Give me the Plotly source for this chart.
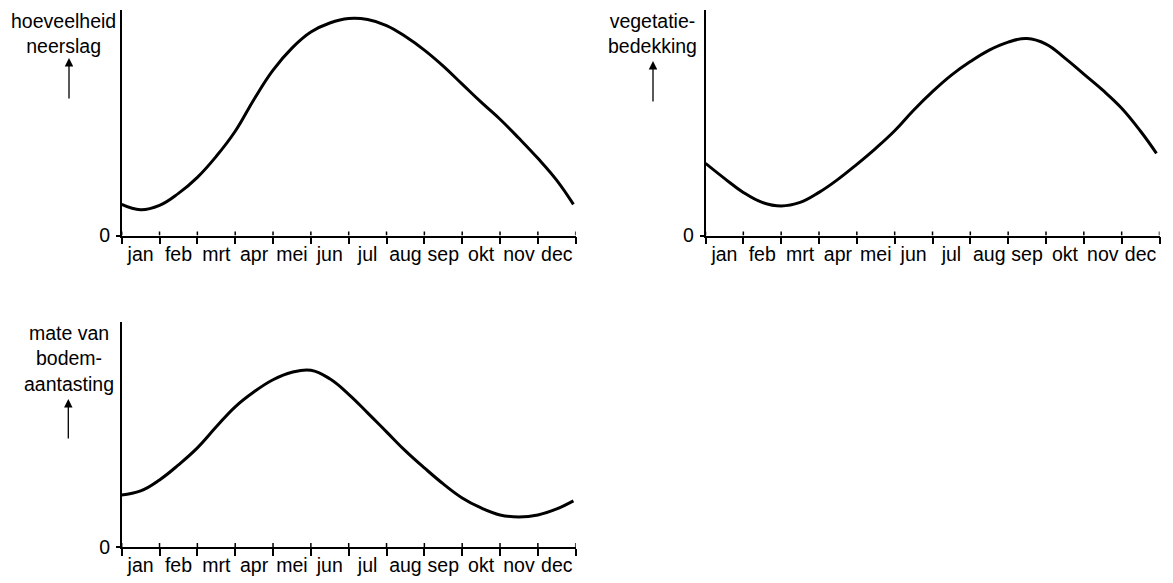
import plotly.graph_objects as go

W, H = 1173, 583
OFFSET = 8  # the page body margin shifts the figure by 8px in the screenshot

months = ["jan", "feb", "mrt", "apr", "mei", "jun", "jul", "aug", "sep", "okt", "nov", "dec"]
tick_positions = list(range(13))
label_positions = [i + 0.5 for i in range(12)]

# x = month position (0 = start of jan, 12 = end of dec); y in arbitrary units (0-225)
x_neerslag = [0, 0.5, 1, 1.5, 2, 2.5, 3, 3.5, 4, 4.5, 5, 5.5, 6, 6.5, 7, 7.5, 8, 8.5, 9, 9.5, 10, 10.5, 11, 11.5, 11.94]
y_neerslag = [31, 25.7, 30, 42, 58, 79, 104, 136, 165, 187, 203, 212, 216.5, 215.5, 209.5, 198.5, 185, 169, 151, 133, 116, 97, 77, 55, 31]

x_vegetatie = [0, 0.5, 1, 1.5, 2, 2.5, 3, 3.5, 4, 4.5, 5, 5.5, 6, 6.5, 7, 7.5, 8, 8.5, 9, 9.5, 10, 10.5, 11, 11.5, 11.92]
y_vegetatie = [72, 57, 43, 33, 29.5, 33, 43, 56, 71, 87, 104.5, 125, 143.5, 160, 173.5, 185, 193, 196.5, 191, 177, 161, 145, 127, 104, 82]

x_bodem = [0, 0.5, 1, 1.5, 2, 2.5, 3, 3.5, 4, 4.5, 5, 5.5, 6, 6.5, 7, 7.5, 8, 8.5, 9, 9.5, 10, 10.5, 11, 11.5, 11.94]
y_bodem = [52, 56, 67, 82, 99, 120, 140, 155, 167, 174.5, 176.5, 168, 152.5, 134, 115, 96, 79, 63, 49, 39, 32, 30, 32, 38, 46]

FONT = "Liberation Sans, Arial, sans-serif"
FS = 19.5

def px_x(p):
    return (p - OFFSET) / W

def px_y(p):
    return 1 - (p - OFFSET) / H

panels = [
    dict(x=x_neerslag, y=y_neerslag, xd=[121.7, 575.7], yd=[10, 235.5],
         label="hoeveelheid<br>neerslag", lx=63.5, ly=8.5, ax_x=69, ax_top=58, ax_bot=100),
    dict(x=x_vegetatie, y=y_vegetatie, xd=[705.5, 1159.5], yd=[10, 235.5],
         label="vegetatie-<br>bedekking", lx=652, ly=8.5, ax_x=653, ax_top=61, ax_bot=103),
    dict(x=x_bodem, y=y_bodem, xd=[121.7, 575.7], yd=[321.7, 547],
         label="mate van<br>bodem-<br>aantasting", lx=69, ly=320, ax_x=68.3, ax_top=399, ax_bot=440),
]

fig = go.Figure()
annotations = []
shapes = []
for i, p in enumerate(panels, start=1):
    xa = "x" if i == 1 else f"x{i}"
    ya = "y" if i == 1 else f"y{i}"
    fig.add_trace(go.Scatter(x=p["x"], y=p["y"], mode="lines",
                             line=dict(color="black", width=3, shape="spline", smoothing=1.2),
                             xaxis=xa, yaxis=ya, showlegend=False, hoverinfo="skip"))
    xkey = "xaxis" if i == 1 else f"xaxis{i}"
    ykey = "yaxis" if i == 1 else f"yaxis{i}"
    fig.layout[xkey] = dict(
        domain=[px_x(p["xd"][0]), px_x(p["xd"][1])], anchor=ya, range=[0, 12], automargin=False,
        showline=True, linecolor="black", linewidth=1.5, showgrid=False, zeroline=False,
        tickmode="array", tickvals=label_positions, ticktext=months, ticks="",
        tickfont=dict(family=FONT, size=FS, color="black"),
        minor=dict(tickmode="array", tickvals=tick_positions, ticks="outside", ticklen=7,
                   tickwidth=1.5, tickcolor="black", showgrid=False),
        fixedrange=True,
    )
    fig.layout[ykey] = dict(
        domain=[px_y(p["yd"][1]), px_y(p["yd"][0])], anchor=xa, range=[0, 225], automargin=False,
        showline=True, linecolor="black", linewidth=1.5, showgrid=False, zeroline=False,
        tickmode="array", tickvals=[0], ticktext=["0"], ticks="outside", ticklen=4, tickwidth=1.5,
        tickcolor="black", tickfont=dict(family=FONT, size=FS, color="black"), ticklabelstandoff=2,
        fixedrange=True,
    )
    # small upward parts of the month ticks
    for t in tick_positions:
        shapes.append(dict(type="line", xref=xa, yref=ya, x0=t, x1=t, y0=0, y1=4,
                           line=dict(color="black", width=1.5)))
    annotations.append(dict(text=p["label"], xref="paper", yref="paper", x=px_x(p["lx"]), y=px_y(p["ly"]),
                            xanchor="center", yanchor="top", showarrow=False, align="center",
                            font=dict(family=FONT, size=FS, color="black")))
    annotations.append(dict(text="", xref="paper", yref="paper", x=px_x(p["ax_x"]), y=px_y(p["ax_top"]),
                            ax=0, ay=p["ax_bot"] - p["ax_top"], showarrow=True, arrowhead=2, arrowsize=1.3,
                            arrowwidth=1.3, arrowcolor="black"))

fig.update_layout(template="none", width=W, height=H, margin=dict(l=0, r=0, t=0, b=0, pad=0),
                  paper_bgcolor="white", plot_bgcolor="white",
                  annotations=annotations, shapes=shapes)

fig.write_html("out.html")
